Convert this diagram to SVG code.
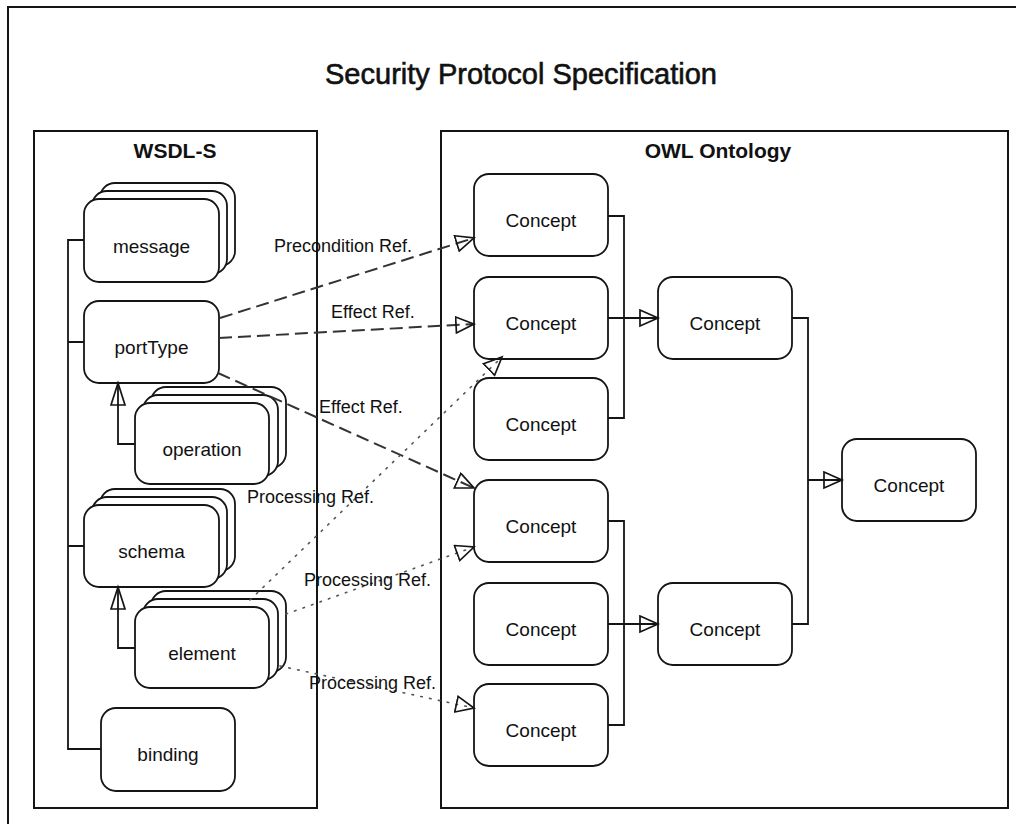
<svg xmlns="http://www.w3.org/2000/svg" width="1016" height="824" viewBox="0 0 1016 824">
<style>
  .frame{fill:none;stroke:#151515;stroke-width:2}
  .node{fill:#fff;stroke:#151515;stroke-width:1.8}
  .lbl{font-family:"Liberation Sans",Arial,sans-serif;font-size:18px;fill:#111}
  .nl{font-family:"Liberation Sans",Arial,sans-serif;font-size:19px;fill:#111;text-anchor:middle}
  .hd{font-family:"Liberation Sans",Arial,sans-serif;font-size:21px;font-weight:bold;fill:#111;text-anchor:middle}
  .title{font-family:"Liberation Sans",Arial,sans-serif;font-size:29px;fill:#111;stroke:#111;stroke-width:0.6;text-anchor:middle}
  .solid{fill:none;stroke:#151515;stroke-width:1.8}
  .dash{fill:none;stroke:#333;stroke-width:2;stroke-dasharray:13 6}
  .dot{fill:none;stroke:#555;stroke-width:1.6;stroke-dasharray:1.6 7.4;stroke-linecap:round}
</style>
<defs>
  <marker id="tri" markerWidth="22" markerHeight="20" refX="19" refY="9" orient="auto" markerUnits="userSpaceOnUse">
    <path d="M1,1 L19,9 L1,17 Z" fill="none" stroke="#151515" stroke-width="1.7"/>
  </marker>
  <marker id="trilong" markerWidth="26" markerHeight="18" refX="23" refY="8" orient="auto" markerUnits="userSpaceOnUse">
    <path d="M1,1 L23,8 L1,15 Z" fill="none" stroke="#151515" stroke-width="1.7"/>
  </marker>
</defs>
<rect width="1016" height="824" fill="#fff"/>
<g id="frame">
  <rect class="frame" x="8" y="7" width="1030" height="840"/>
  <text class="title" x="521" y="84" textLength="392" lengthAdjust="spacingAndGlyphs">Security Protocol Specification</text>
</g>
<g id="wsdl-s">
  <rect class="frame" x="34" y="131" width="283" height="677"/>
  <text class="hd" x="175" y="158">WSDL-S</text>
</g>
<g id="owl-ontology">
  <rect class="frame" x="441" y="131" width="567" height="677"/>
  <text class="hd" x="718" y="158">OWL Ontology</text>
</g>
<g id="message">
  <rect class="node" x="100" y="183" width="135" height="83" rx="15"/>
  <rect class="node" x="92" y="191" width="135" height="83" rx="15"/>
  <rect class="node" x="84" y="199" width="135" height="83" rx="15"/>
  <text class="nl" x="151.5" y="253">message</text>
</g>
<g id="portType">
  <rect class="node" x="84" y="301" width="135" height="82" rx="15"/>
  <text class="nl" x="151.5" y="354">portType</text>
</g>
<g id="operation">
  <rect class="node" x="151" y="387" width="135" height="81" rx="15"/>
  <rect class="node" x="143" y="395" width="135" height="81" rx="15"/>
  <rect class="node" x="135" y="403" width="134" height="81" rx="15"/>
  <text class="nl" x="202" y="456">operation</text>
</g>
<g id="schema">
  <rect class="node" x="100" y="489" width="135" height="82" rx="15"/>
  <rect class="node" x="92" y="497" width="135" height="82" rx="15"/>
  <rect class="node" x="84" y="505" width="135" height="82" rx="15"/>
  <text class="nl" x="151.5" y="558">schema</text>
</g>
<g id="element">
  <rect class="node" x="151" y="591" width="135" height="81" rx="15"/>
  <rect class="node" x="143" y="599" width="135" height="81" rx="15"/>
  <rect class="node" x="135" y="607" width="134" height="81" rx="15"/>
  <text class="nl" x="202" y="660">element</text>
</g>
<g id="binding">
  <rect class="node" x="101" y="708" width="134" height="83" rx="15"/>
  <text class="nl" x="168" y="761">binding</text>
</g>
<g id="concept-1">
  <rect class="node" x="474" y="174" width="134" height="82" rx="15"/>
  <text class="nl" x="541" y="227">Concept</text>
</g>
<g id="concept-2">
  <rect class="node" x="474" y="277" width="134" height="82" rx="15"/>
  <text class="nl" x="541" y="330">Concept</text>
</g>
<g id="concept-3">
  <rect class="node" x="474" y="378" width="134" height="82" rx="15"/>
  <text class="nl" x="541" y="431">Concept</text>
</g>
<g id="concept-4">
  <rect class="node" x="474" y="480" width="134" height="82" rx="15"/>
  <text class="nl" x="541" y="533">Concept</text>
</g>
<g id="concept-5">
  <rect class="node" x="474" y="583" width="134" height="82" rx="15"/>
  <text class="nl" x="541" y="636">Concept</text>
</g>
<g id="concept-6">
  <rect class="node" x="474" y="684" width="134" height="82" rx="15"/>
  <text class="nl" x="541" y="737">Concept</text>
</g>
<g id="concept-7">
  <rect class="node" x="658" y="277" width="134" height="82" rx="15"/>
  <text class="nl" x="725" y="330">Concept</text>
</g>
<g id="concept-8">
  <rect class="node" x="658" y="583" width="134" height="82" rx="15"/>
  <text class="nl" x="725" y="636">Concept</text>
</g>
<g id="concept-9">
  <rect class="node" x="842" y="439" width="134" height="82" rx="15"/>
  <text class="nl" x="909" y="492">Concept</text>
</g>
<g id="connectors">
  <path class="solid" d="M84,240 H68 V749 H101 M68,342 H84 M68,546 H84"/>
  <path class="solid" d="M135,444 H118 V383" marker-end="url(#trilong)"/>
  <path class="solid" d="M135,648 H118 V587" marker-end="url(#trilong)"/>
  <path class="solid" d="M608,216 H624 V418 H608"/>
  <path class="solid" d="M608,318 H658" marker-end="url(#tri)"/>
  <path class="solid" d="M608,521 H624 V725 H608"/>
  <path class="solid" d="M608,624 H658" marker-end="url(#tri)"/>
  <path class="solid" d="M792,318 H808 V624 H792"/>
  <path class="solid" d="M808,480 H842" marker-end="url(#tri)"/>
  <path class="dash" d="M220,318 L474,238" marker-end="url(#tri)"/>
  <path class="dash" d="M219,338 L474,324" marker-end="url(#tri)"/>
  <path class="dash" d="M218,373 L474,488" marker-end="url(#tri)"/>
  <path class="dot" d="M250,600 L502,357" marker-end="url(#tri)"/>
  <path class="dot" d="M286,614 L474,547" marker-end="url(#tri)"/>
  <path class="dot" d="M280,666 L474,708" marker-end="url(#tri)"/>
  <text class="lbl" x="274" y="252">Precondition Ref.</text>
  <text class="lbl" x="331" y="318">Effect Ref.</text>
  <text class="lbl" x="319" y="413">Effect Ref.</text>
  <text class="lbl" x="247" y="503">Processing Ref.</text>
  <text class="lbl" x="304" y="586">Processing Ref.</text>
  <text class="lbl" x="309" y="689">Processing Ref.</text>
</g>
</svg>
